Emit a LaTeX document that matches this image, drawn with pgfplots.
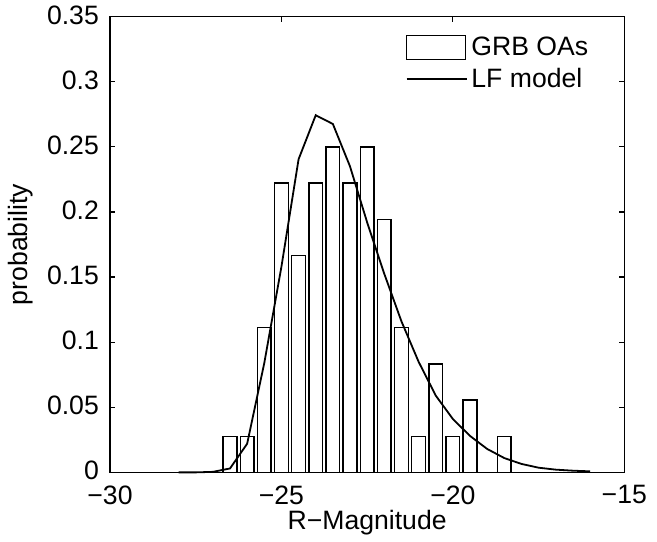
\documentclass[border=0pt]{standalone}
\usepackage{fontspec}
\setmainfont{Liberation Sans}
\usepackage{pgfplots}
\pgfplotsset{compat=1.18}
\begin{document}
\begin{tikzpicture}[font=\fontsize{13.3pt}{16pt}\selectfont]
\begin{axis}[
  scale only axis, width=257.2pt, height=227.9pt,
  xmin=-30, xmax=-15, ymin=0, ymax=0.35,
  xtick={-30,-25,-20,-15}, xticklabels={−30,−25,−20,−15},
  ytick={0,0.05,0.1,0.15,0.2,0.25,0.3,0.35},
  yticklabels={0,0.05,0.1,0.15,0.2,0.25,0.3,0.35},
  tick align=inside, major tick length=2.5pt,
  axis line style={line width=0.7pt},
  every tick/.style={black, line width=0.6pt},
  xticklabel style={inner sep=1pt, yshift=-5.4pt},
  yticklabel style={inner sep=1pt, xshift=-4.4pt, yshift=0.8pt},
  xlabel={R−Magnitude}, ylabel={probability},
  xlabel style={yshift=1.6pt},
  ylabel style={yshift=2.4pt},
  clip=false,
  legend style={draw=none, fill=none, at={(0.95,0.975)}, anchor=north east, row sep=1pt,
    font=\fontsize{13.3pt}{16pt}\selectfont},
  legend cell align=left,
]
\addplot[ybar, bar width=0.4, draw=black, fill=white, line width=0.7pt,
  legend image code/.code={\draw[black, fill=white, line width=0.5pt] (0pt,-6pt) rectangle (29.5pt,6pt);}]
  coordinates {
  (-26.5,0.02778) (-26.0,0.02778) (-25.5,0.11111) (-25.0,0.22222)
  (-24.5,0.16667) (-24.0,0.22222) (-23.5,0.25000) (-23.0,0.22222)
  (-22.5,0.25000) (-22.0,0.19444) (-21.5,0.11111) (-21.0,0.02778)
  (-20.5,0.08333) (-20.0,0.02778) (-19.5,0.05556) (-18.5,0.02778)
  };
\addlegendentry{GRB OAs}
\addplot[black, line width=0.9pt, no markers,
  legend image code/.code={\draw[black, line width=0.9pt] (0pt,0pt) -- (30pt,0pt);}]
  coordinates {
  (-28.0,0.0000) (-27.5,0.0000) (-27.0,0.0004) (-26.5,0.0030)
  (-26.0,0.0220) (-25.5,0.0840) (-25.0,0.1580) (-24.5,0.2405)
  (-24.0,0.2743) (-23.5,0.2676) (-23.0,0.2350) (-22.5,0.1920)
  (-22.0,0.1525) (-21.5,0.1160) (-21.0,0.0850) (-20.5,0.0590)
  (-20.0,0.0410) (-19.5,0.0280) (-19.0,0.0180) (-18.5,0.0110)
  (-18.0,0.0065) (-17.5,0.0036) (-17.0,0.0021) (-16.5,0.0013)
  (-16.0,0.0008)
  };
\addlegendentry{LF model}
\path (rel axis cs:-0.2139,-0.1525) rectangle (rel axis cs:1.0636,1.0366);
\end{axis}
\end{tikzpicture}
\end{document}
